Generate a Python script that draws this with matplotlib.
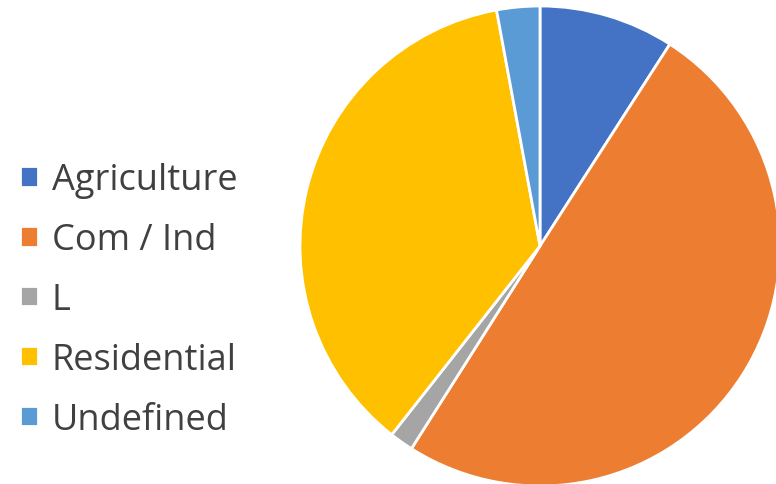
import matplotlib.pyplot as plt

labels = ["Agriculture", "Com / Ind", "L", "Residential", "Undefined"]
shares = [9.1, 49.9, 1.6, 36.5, 2.9]
colors = ["#4472C4", "#ED7D31", "#A5A5A5", "#FFC000", "#5B9BD5"]

plt.rcParams["font.family"] = ["Open Sans", "DejaVu Sans"]

W, H = 776, 485
fig = plt.figure(figsize=(W / 100, H / 100), dpi=100)

# pie centre ~ (540, 247) px, radius ~ 240 px
cx, cy, r = 540, 247, 240
ax = fig.add_axes([(cx - r) / W, (H - cy - r) / H, 2 * r / W, 2 * r / H])
wedges, _ = ax.pie(shares, colors=colors, startangle=90, counterclock=False,
                   radius=1, wedgeprops=dict(edgecolor="white", linewidth=2))
ax.set_xlim(-1, 1)
ax.set_ylim(-1, 1)
ax.set_aspect("equal")
ax.axis("off")

fig.legend(wedges, labels, loc="center left", bbox_to_anchor=(20 / W, 1 - 301 / H),
           frameon=False, fontsize=26, borderpad=0, borderaxespad=0,
           handlelength=0.5, handleheight=0.5,
           handletextpad=0.38, labelspacing=0.66, labelcolor="#404040")

fig.savefig("out.png", dpi=100)
